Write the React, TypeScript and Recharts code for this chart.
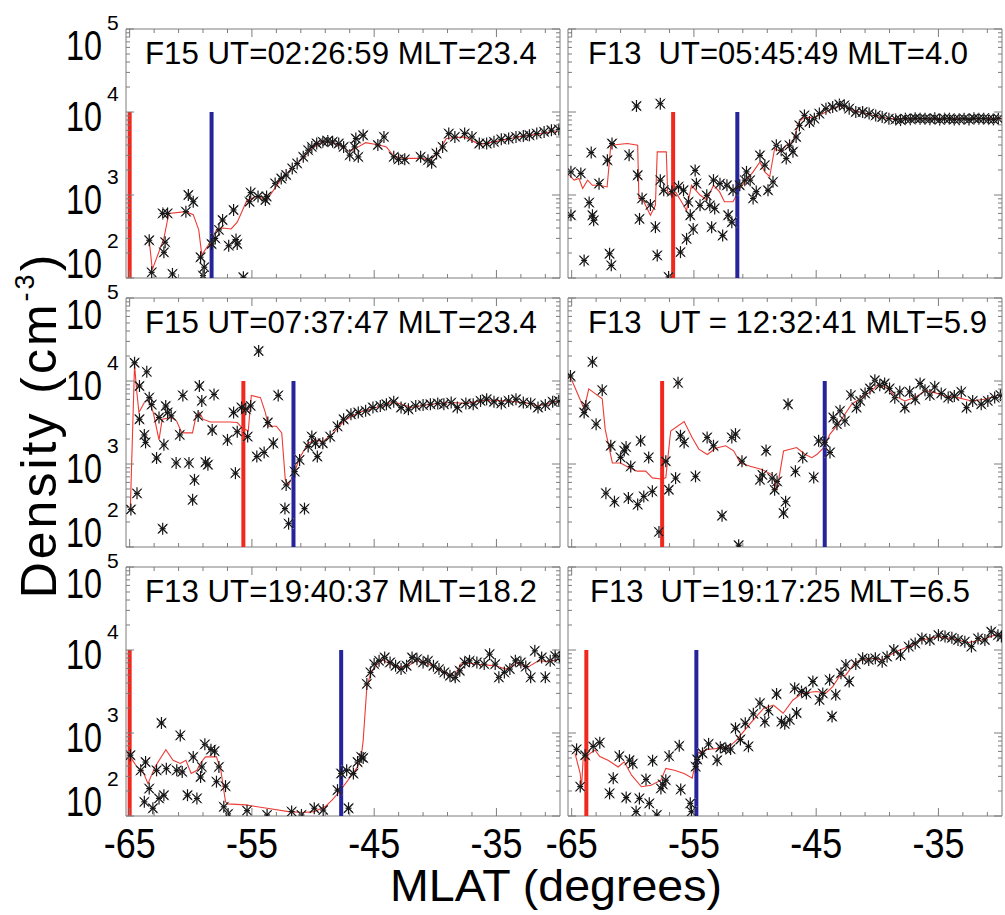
import { ComposedChart, Scatter, Line, XAxis, YAxis, ReferenceLine, ReferenceArea } from "recharts";

// MLAT tick positions (major every 10 deg, minor every 2 deg)
const xTicks = [-65, -63, -61, -59, -57, -55, -53, -51, -49, -47, -45, -43, -41, -39, -37, -35, -33, -31];
const xMajor = [-65, -55, -45, -35];
const yTicks = [
  100, 200, 300, 400, 500, 600, 700, 800, 900,
  1000, 2000, 3000, 4000, 5000, 6000, 7000, 8000, 9000,
  10000, 20000, 30000, 40000, 50000, 60000, 70000, 80000, 90000, 100000,
];
const yMajor = [100, 1000, 10000, 100000];

const titles = [
  "F15 UT=02:26:59 MLT=23.4",
  "F13  UT=05:45:49 MLT=4.0",
  "F15 UT=07:37:47 MLT=23.4",
  "F13  UT = 12:32:41 MLT=5.9",
  "F13 UT=19:40:37 MLT=18.2",
  "F13  UT=19:17:25 MLT=6.5",
];

// boundary markers (MLAT)
const redEdges = [-65.0, -56.7, -55.7, -57.6, -65.0, -63.8];
const blueEdges = [-58.3, -51.45, -51.6, -44.3, -47.7, -54.8];

// measured densities [MLAT, cm^-3]
const pass1Stars = [
  [-63.4, 285], [-63.2, 117], [-62.3, 600], [-61.9, 600], [-62.1, 270], [-62.2, 204], [-61.5, 112],
  [-60.2, 1000], [-59.8, 830], [-60.4, 630], [-59.2, 178], [-58.9, 135], [-59.0, 107], [-58.3, 257],
  [-58.0, 300], [-57.4, 500], [-57.7, 380], [-56.9, 245], [-56.5, 660], [-56.2, 257], [-56.3, 290],
  [-55.7, 102], [-55.2, 830], [-55.1, 1070], [-54.5, 960], [-53.9, 870], [-53.8, 960], [-53.1, 1380],
  [-52.6, 1580], [-52.2, 1740], [-51.7, 2090], [-51.3, 2400], [-50.8, 2880], [-50.4, 3470], [-50.1, 3800],
  [-49.7, 4170], [-49.2, 4370], [-48.8, 4470], [-48.4, 4370], [-47.9, 4170], [-47.5, 3800], [-47.0, 3020],
  [-46.6, 3800], [-46.3, 2880], [-46.5, 4790], [-45.9, 5250], [-44.7, 4000], [-44.2, 5010], [-43.4, 2880],
  [-43.0, 2690], [-42.5, 2690], [-41.2, 2880], [-40.6, 2630], [-40.3, 2450], [-39.9, 3160], [-39.4, 3800],
  [-38.9, 5500], [-38.4, 5010], [-37.6, 5500], [-37.0, 5010], [-36.4, 4170], [-35.8, 4170], [-35.2, 4370],
  [-34.6, 4680], [-34.0, 4790], [-33.4, 5010], [-32.8, 5130], [-32.3, 5250], [-31.7, 5500], [-31.1, 5750],
  [-30.5, 6030], [-29.9, 6170],
];
const pass1Fit = [
  [-63.4, 285], [-63.15, 126], [-62.2, 300], [-61.8, 600], [-60.4, 630], [-59.8, 580], [-59.35, 380],
  [-59.1, 190], [-58.3, 285], [-57.9, 380], [-57.4, 400], [-56.7, 390], [-56.2, 470], [-55.4, 870],
  [-54.5, 960], [-53.8, 870], [-52.8, 1410], [-51.9, 1990], [-51.0, 2630], [-50.1, 3630], [-49.25, 4370],
  [-48.4, 4270], [-47.5, 3800], [-47.05, 3310], [-46.3, 3800], [-45.7, 4270], [-44.6, 4000], [-44.0, 3800],
  [-43.4, 2950], [-42.55, 2760], [-41.1, 2760], [-40.5, 2630], [-39.8, 3160], [-39.1, 4790], [-37.6, 5010],
  [-36.4, 4080], [-35.2, 4370], [-33.2, 5010], [-31.7, 5370], [-29.8, 6030],
];

const pass2Stars = [
  [-65.06, 1900], [-65.06, 570], [-64.25, 1820], [-63.98, 163], [-63.57, 810], [-63.4, 3240], [-63.3, 570],
  [-63.2, 495], [-62.76, 1370], [-62.08, 2620], [-61.9, 196], [-61.76, 142], [-61.7, 4170], [-60.3, 3020],
  [-59.7, 11800], [-59.6, 1730], [-59.45, 515], [-59.24, 910], [-58.56, 760], [-58.15, 410], [-58.0, 187],
  [-57.75, 12600], [-57.75, 1510], [-57.47, 1140], [-57.07, 103], [-56.8, 1100], [-56.26, 1260], [-56.1, 205],
  [-55.85, 1140], [-55.6, 296], [-55.45, 825], [-55.3, 570], [-55.06, 390], [-54.9, 1980], [-54.8, 1370],
  [-54.5, 750], [-53.95, 990], [-53.7, 750], [-53.55, 410], [-53.4, 1510], [-53.3, 690], [-52.87, 1370],
  [-52.65, 325], [-52.3, 1310], [-52.2, 570], [-51.9, 470], [-51.8, 1140], [-51.25, 1310], [-50.84, 1510],
  [-50.7, 1900], [-50.4, 1510], [-50.16, 910], [-49.9, 1100], [-49.6, 3000], [-49.2, 2290], [-48.94, 1140],
  [-48.53, 1440], [-48.26, 3970], [-47.86, 3470], [-47.45, 2760], [-47.18, 3970], [-46.9, 3320], [-46.64, 5000],
  [-46.37, 6900], [-45.96, 9100], [-45.55, 7580], [-45.15, 8310], [-44.74, 9570], [-44.2, 10960], [-43.65, 11500],
  [-43.1, 12300], [-42.7, 12000], [-42.3, 10960], [-41.76, 10000], [-41.2, 10000], [-40.67, 9570], [-40.13, 9100],
  [-39.6, 8700], [-39.05, 8310], [-38.5, 8140], [-38.1, 8000], [-37.7, 8310], [-37.3, 8200], [-36.9, 8400],
  [-36.5, 8300], [-36.1, 8310], [-35.7, 8200], [-35.3, 8400], [-34.9, 8100], [-34.5, 8310], [-34.1, 8300],
  [-33.7, 8140], [-33.3, 8200], [-32.9, 8310], [-32.5, 8100], [-32.1, 8400], [-31.7, 8300], [-31.3, 8310],
  [-30.9, 8200], [-30.5, 8140], [-30.1, 8300],
];
const pass2Fit = [
  [-65.2, 1740], [-64.8, 1510], [-64.4, 1580], [-64.1, 1200], [-63.7, 1510], [-63.3, 1310], [-62.75, 1310],
  [-62.1, 1250], [-61.8, 3980], [-60.45, 4170], [-59.6, 3980], [-59.5, 910], [-59.1, 830], [-58.56, 570],
  [-58.15, 750], [-58.0, 3310], [-57.26, 3310], [-57.15, 1090], [-56.9, 1000], [-56.5, 1090], [-56.1, 870],
  [-55.6, 650], [-55.2, 1310], [-54.5, 1000], [-53.95, 870], [-53.4, 1310], [-52.9, 1090], [-52.5, 830],
  [-51.8, 830], [-51.25, 1200], [-50.7, 1510], [-50.16, 1900], [-49.6, 2500], [-49.2, 1900], [-48.8, 1660],
  [-48.4, 3630], [-47.86, 3310], [-47.45, 3980], [-46.9, 4370], [-46.4, 7590], [-45.96, 8710], [-45.3, 8510],
  [-44.5, 9550], [-43.65, 10960], [-42.85, 12020], [-42.0, 10470], [-40.9, 9550], [-39.86, 8710], [-38.8, 8310],
  [-36.1, 8310], [-33.4, 8310], [-29.8, 8310],
];

const pass3Stars = [
  [-64.9, 283], [-64.6, 16600], [-64.4, 443], [-64.2, 8700], [-64.2, 3460], [-63.8, 2240], [-63.7, 1820],
  [-63.6, 12900], [-63.4, 6300], [-63.2, 5200], [-62.8, 1180], [-62.6, 3630], [-62.3, 166], [-62.2, 1700],
  [-62.05, 5000], [-61.9, 4170], [-61.6, 3800], [-61.2, 1030], [-60.9, 2240], [-60.65, 6700], [-60.15, 1030],
  [-59.85, 370], [-59.7, 645], [-59.4, 3800], [-59.3, 8700], [-59.1, 5750], [-58.8, 1050], [-58.6, 980],
  [-58.25, 2570], [-58.1, 6900], [-57.0, 1950], [-56.5, 4170], [-56.35, 775], [-56.2, 2450], [-55.85, 4790],
  [-55.5, 4570], [-55.35, 2140], [-55.1, 5010], [-54.6, 1230], [-54.45, 23000], [-54.0, 1380], [-53.7, 3160],
  [-53.25, 1780], [-52.85, 6700], [-52.2, 560], [-52.3, 290], [-52.0, 191], [-51.5, 810], [-51.1, 1120],
  [-50.7, 290], [-50.4, 1630], [-50.1, 2140], [-49.8, 1780], [-49.65, 1230], [-49.2, 1780], [-48.6, 2140],
  [-48.0, 2840], [-47.5, 3460], [-46.9, 3980], [-46.3, 4170], [-45.7, 4370], [-45.1, 4790], [-44.5, 5010],
  [-44.0, 5250], [-43.4, 5620], [-42.8, 4790], [-42.2, 4570], [-41.6, 5010], [-41.0, 5130], [-40.4, 5250],
  [-39.8, 5370], [-39.3, 5250], [-38.7, 5500], [-38.2, 4790], [-37.5, 5370], [-36.9, 5250], [-36.3, 5750],
  [-35.8, 6030], [-35.2, 5620], [-34.6, 5370], [-34.0, 5750], [-33.4, 6030], [-32.8, 5500], [-32.2, 5370],
  [-31.6, 4790], [-31.0, 5130], [-30.4, 5620], [-29.9, 5750],
];
const pass3Fit = [
  [-64.95, 280], [-64.6, 15800], [-64.44, 7940], [-64.24, 4170], [-63.8, 5500], [-63.5, 6030], [-63.07, 4170],
  [-62.6, 1950], [-62.34, 3470], [-61.6, 3630], [-61.17, 3310], [-60.73, 2370], [-59.86, 2370], [-59.57, 3800],
  [-59.28, 4170], [-59.0, 3470], [-58.4, 3200], [-56.8, 3200], [-56.2, 3160], [-55.8, 2730], [-55.3, 2500],
  [-55.05, 6700], [-54.3, 6300], [-53.9, 4170], [-53.65, 2850], [-53.0, 2850], [-52.56, 2370], [-52.27, 645],
  [-52.0, 560], [-51.55, 775], [-51.1, 1180], [-50.4, 1780], [-49.8, 1950], [-49.2, 1860], [-48.33, 2370],
  [-47.45, 3310], [-46.3, 4170], [-44.83, 4790], [-43.4, 5620], [-41.9, 4790], [-40.45, 5250], [-38.7, 5500],
  [-37.5, 5370], [-35.8, 5890], [-34.0, 5750], [-32.3, 5370], [-31.7, 4960], [-31.1, 5250], [-29.8, 5750],
];

const pass4Stars = [
  [-65.1, 11500], [-63.98, 4170], [-63.84, 5010], [-63.3, 17000], [-63.0, 3020], [-62.5, 7760], [-61.8, 1660],
  [-61.0, 1200], [-60.7, 1450], [-60.55, 1600], [-60.17, 935], [-62.2, 445], [-61.5, 352], [-60.36, 390],
  [-59.6, 324], [-59.36, 1900], [-59.1, 407], [-58.7, 1200], [-58.4, 468], [-57.86, 152], [-57.3, 1080],
  [-57.05, 490], [-56.5, 676], [-56.3, 9500], [-56.1, 2190], [-55.8, 1820], [-54.87, 710], [-53.92, 2090],
  [-53.4, 1660], [-52.7, 238], [-51.9, 2090], [-51.6, 2290], [-51.34, 105], [-51.07, 1080], [-49.6, 645],
  [-49.4, 740], [-49.1, 1450], [-48.6, 676], [-48.4, 490], [-48.2, 617], [-47.5, 352], [-47.67, 257],
  [-47.3, 5250], [-46.7, 815], [-46.1, 1200], [-45.2, 690], [-44.8, 1900], [-44.3, 1820], [-43.87, 1380],
  [-43.6, 3630], [-43.3, 3020], [-43.05, 4370], [-42.65, 3310], [-42.16, 6760], [-41.7, 4790], [-41.4, 5750],
  [-41.0, 7080], [-40.6, 8130], [-40.2, 10200], [-39.8, 8900], [-39.4, 9330], [-39.0, 8130], [-38.57, 6300],
  [-38.16, 7410], [-37.75, 4790], [-37.35, 7410], [-36.9, 6030], [-36.5, 9330], [-36.1, 7760], [-35.7, 6760],
  [-35.3, 8510], [-34.77, 7080], [-34.2, 6310], [-33.7, 6600], [-33.13, 7410], [-32.7, 4790], [-32.2, 5750],
  [-31.5, 5250], [-30.96, 5750], [-30.4, 6310], [-29.93, 6760],
];
const pass4Fit = [
  [-65.1, 11200], [-63.98, 4600], [-63.6, 8050], [-62.5, 6100], [-62.26, 2630], [-61.67, 1030], [-61.0, 1030],
  [-60.3, 900], [-59.63, 820], [-58.95, 820], [-58.4, 680], [-57.7, 660], [-57.3, 680], [-56.9, 2500],
  [-55.8, 3240], [-55.15, 2080], [-54.6, 1510], [-53.9, 1300], [-53.24, 1550], [-52.4, 1660], [-51.75, 1440],
  [-51.2, 1030], [-50.4, 940], [-49.44, 860], [-48.6, 740], [-48.2, 490], [-47.67, 1440], [-46.6, 1580],
  [-45.9, 1300], [-45.36, 1190], [-44.95, 1300], [-44.36, 1580], [-43.87, 2290], [-43.2, 3020], [-42.65, 3980],
  [-42.1, 5250], [-41.3, 6310], [-40.47, 7590], [-39.93, 9120], [-39.25, 8320], [-38.57, 6610], [-37.75, 5750],
  [-36.94, 6310], [-36.1, 7590], [-35.3, 7240], [-34.5, 6610], [-33.4, 6310], [-32.3, 5750], [-31.23, 6030],
  [-29.8, 6920],
];

const pass5Stars = [
  [-64.94, 540], [-64.1, 355], [-63.7, 447], [-63.8, 148], [-63.4, 214], [-63.1, 124], [-62.8, 355],
  [-62.6, 163], [-62.4, 1320], [-62.2, 178], [-62.0, 372], [-61.15, 355], [-60.86, 935], [-60.7, 340],
  [-60.27, 178], [-59.8, 515], [-59.5, 163], [-59.2, 295], [-59.1, 390], [-58.85, 730], [-58.35, 630],
  [-58.05, 605], [-57.9, 259], [-57.7, 390], [-57.16, 229], [-57.3, 129], [-56.95, 106], [-55.4, 116],
  [-53.76, 103], [-51.75, 113], [-50.95, 103], [-49.9, 124], [-49.17, 118], [-48.0, 205], [-47.7, 325],
  [-47.25, 355], [-47.1, 124], [-46.7, 325], [-46.36, 447], [-46.06, 515], [-45.9, 500], [-45.6, 3900],
  [-45.3, 5370], [-45.0, 6760], [-44.6, 7410], [-44.14, 8130], [-43.7, 7080], [-43.25, 6460], [-42.8, 5890],
  [-42.35, 6460], [-41.9, 8130], [-41.5, 7760], [-41.0, 7080], [-40.6, 7410], [-40.15, 6460], [-39.7, 5890],
  [-39.26, 5370], [-38.8, 4900], [-38.37, 4680], [-38.0, 5620], [-37.6, 7080], [-37.2, 7410], [-36.6, 7080],
  [-36.0, 6760], [-35.56, 8910], [-35.1, 6760], [-34.8, 4680], [-34.35, 5370], [-33.9, 5890], [-33.45, 7410],
  [-33.0, 7080], [-32.6, 6310], [-32.2, 4680], [-31.86, 9770], [-31.3, 8130], [-31.0, 4680], [-30.6, 7410],
  [-30.2, 8510], [-29.85, 8130],
];
const pass5Fit = [
  [-64.94, 515], [-64.4, 390], [-63.96, 355], [-63.5, 245], [-62.93, 390], [-62.04, 630], [-61.45, 470],
  [-60.86, 430], [-60.4, 470], [-59.97, 325], [-59.5, 355], [-59.23, 430], [-58.8, 515], [-57.9, 515],
  [-57.54, 355], [-57.16, 148], [-57.0, 140], [-55.53, 136], [-53.76, 124], [-52.0, 113], [-50.8, 110],
  [-49.9, 113], [-49.0, 130], [-48.43, 156], [-47.84, 196], [-47.54, 225], [-46.95, 296], [-46.36, 390],
  [-46.06, 515], [-45.9, 815], [-45.6, 3550], [-45.3, 5130], [-44.9, 6460], [-44.3, 7590], [-43.7, 6760],
  [-43.1, 6170], [-42.2, 6460], [-41.6, 7410], [-40.74, 7080], [-39.85, 5890], [-38.96, 5130], [-38.37, 4900],
  [-37.93, 6760], [-37.2, 6920], [-36.0, 6610], [-35.1, 6460], [-34.23, 5890], [-33.34, 6920], [-32.46, 6170],
  [-31.57, 7410], [-30.7, 7240], [-29.8, 7850],
];

const pass6Stars = [
  [-64.6, 635], [-64.3, 226], [-63.9, 540], [-63.24, 690], [-62.7, 765], [-61.9, 187], [-61.6, 284],
  [-61.1, 527], [-60.54, 167], [-60.27, 470], [-60.0, 428], [-59.73, 113], [-59.46, 163], [-58.92, 276],
  [-58.65, 142], [-58.38, 464], [-58.03, 103], [-57.7, 215], [-57.55, 240], [-57.3, 270], [-57.03, 527],
  [-56.08, 209], [-56.2, 700], [-55.3, 142], [-55.2, 113], [-54.86, 393], [-54.73, 480], [-54.3, 570],
  [-53.8, 740], [-53.1, 470], [-52.84, 673], [-52.4, 650], [-52.0, 640], [-51.6, 1140], [-51.2, 835],
  [-50.8, 1310], [-50.54, 690], [-50.14, 1700], [-49.6, 2290], [-49.2, 1370], [-48.9, 1860], [-48.24, 2950],
  [-47.84, 1370], [-47.57, 1290], [-47.16, 1440], [-46.76, 3470], [-46.6, 1740], [-46.2, 3160], [-45.8, 3000],
  [-45.27, 4170], [-44.73, 2510], [-44.46, 3000], [-43.9, 4370], [-43.7, 1580], [-43.4, 2880], [-42.97, 5250],
  [-42.57, 6610], [-42.3, 4170], [-41.76, 6760], [-41.2, 7940], [-40.7, 7590], [-40.16, 7940], [-39.6, 7240],
  [-39.2, 8320], [-38.65, 10000], [-38.1, 8710], [-37.43, 11000], [-36.9, 12000], [-36.35, 13800], [-35.7, 13200],
  [-35.0, 15100], [-34.46, 14500], [-33.9, 14000], [-33.4, 13200], [-32.84, 12600], [-32.3, 11000], [-31.76, 13800],
  [-31.2, 13200], [-30.68, 16600], [-30.13, 15100], [-29.85, 14500],
];
const pass6Fit = [
  [-64.73, 570], [-64.3, 325], [-64.2, 215], [-64.05, 520], [-63.65, 545], [-63.1, 625], [-62.7, 520],
  [-62.03, 470], [-61.2, 390], [-60.7, 450], [-60.1, 310], [-59.3, 225], [-58.5, 235], [-57.7, 270],
  [-57.3, 375], [-56.6, 355], [-55.8, 325], [-55.14, 285], [-54.73, 570], [-53.92, 635], [-52.84, 655],
  [-52.03, 700], [-51.5, 825], [-50.4, 1300], [-49.3, 1980], [-48.5, 2170], [-47.7, 1730], [-46.9, 2500],
  [-46.1, 3020], [-45.0, 3160], [-44.2, 3020], [-43.65, 3630], [-43.1, 4790], [-42.57, 5010], [-41.76, 7240],
  [-40.68, 7940], [-39.6, 7590], [-38.5, 9550], [-37.43, 11000], [-36.35, 13200], [-35.0, 14500], [-33.65, 13500],
  [-32.57, 12300], [-31.5, 13200], [-30.4, 15100], [-29.8, 15100],
];

const starSets = [pass1Stars, pass2Stars, pass3Stars, pass4Stars, pass5Stars, pass6Stars];
const fitSets = [pass1Fit, pass2Fit, pass3Fit, pass4Fit, pass5Fit, pass6Fit];

const X_DOMAIN = [-65.3, -29.8];
const PW = 434;
const PH = 249;
const colLeft = [126, 568];
const rowTop = [29, 298, 567];
// axes take 1px each, so plot area starts at margin + 1
const M = { top: 24, right: 10, bottom: 55, left: 75 };
const FRAME = "#7d7d7d";
const FONT = "'Liberation Sans', Arial, Helvetica, sans-serif";

const Asterisk = (props: any) => {
  const { cx, cy } = props;
  if (cx == null || cy == null) return null;
  const r = 6;
  const d = 4.5;
  return (
    <g>
      <g stroke="#9a9a9a" strokeWidth={1}>
        <line x1={cx - d - 0.8} y1={cy - d - 0.8} x2={cx + d + 0.8} y2={cy + d + 0.8} />
        <line x1={cx - d - 0.8} y1={cy + d + 0.8} x2={cx + d + 0.8} y2={cy - d - 0.8} />
      </g>
      <g stroke="#161616" strokeWidth={1.2}>
        <line x1={cx - d} y1={cy - d} x2={cx + d} y2={cy + d} />
        <line x1={cx - d} y1={cy + d} x2={cx + d} y2={cy - d} />
        <line x1={cx} y1={cy - r} x2={cx} y2={cy + r} />
        <line x1={cx - 3} y1={cy} x2={cx + 3} y2={cy} />
      </g>
    </g>
  );
};

const XTick = (props: any) => {
  const { x, y, payload, showLabel } = props;
  const v = payload.value;
  const major = xMajor.includes(v);
  const len = major ? 8 : 4;
  return (
    <g>
      <line x1={x} y1={y} x2={x} y2={y - len} stroke={FRAME} />
      <line x1={x} y1={y - PH} x2={x} y2={y - PH + len} stroke={FRAME} />
      {showLabel && major && (
        <text x={x} y={y + 42} textAnchor="middle" fontSize={42} fontFamily={FONT} fill="#000"
          textLength={52} lengthAdjust="spacingAndGlyphs">
          {String(v)}
        </text>
      )}
    </g>
  );
};

const labelShift: Record<number, number> = { 100: 0, 1000: 19, 10000: 19, 100000: 31 };

const YTick = (props: any) => {
  const { x, y, payload, showLabel } = props;
  const v = payload.value;
  const major = yMajor.includes(v);
  const len = major ? 8 : 4;
  const exp = String(v).length - 1;
  const base = y + (labelShift[v] ?? 19);
  return (
    <g>
      <line x1={x} y1={y} x2={x + len} y2={y} stroke={FRAME} />
      <line x1={x + PW} y1={y} x2={x + PW - len} y2={y} stroke={FRAME} />
      {showLabel && major && (
        <g fontFamily={FONT} fill="#000">
          <text x={x - 24} y={base} textAnchor="end" fontSize={42} textLength={36} lengthAdjust="spacingAndGlyphs">10</text>
          <text x={x - 19} y={base - 30} fontSize={21}>{exp}</text>
        </g>
      )}
    </g>
  );
};

function Panel({ i }: { i: number }) {
  const row = Math.floor(i / 2);
  const col = i % 2;
  const stars = starSets[i].map(([x, y]) => ({ x, y }));
  const fit = fitSets[i].map(([x, y]) => ({ x, y }));
  const red = redEdges[i];
  const blue = blueEdges[i];
  return (
    <div style={{ position: "absolute", left: colLeft[col] - M.left - 1, top: rowTop[row] - M.top }}>
      <ComposedChart width={PW + M.left + M.right + 1} height={PH + M.top + M.bottom + 1} margin={M}>
        <XAxis type="number" dataKey="x" domain={X_DOMAIN} allowDataOverflow ticks={xTicks} interval={0}
          height={1} axisLine={false} tickLine={false} tickSize={0} tickMargin={0}
          tick={(p: any) => <XTick {...p} showLabel={row === 2} />} />
        <YAxis type="number" dataKey="y" scale="log" domain={[100, 100000]} allowDataOverflow ticks={yTicks}
          interval={0} width={1} axisLine={false} tickLine={false} tickSize={0} tickMargin={0}
          tick={(p: any) => <YTick {...p} showLabel={col === 0} />} />
        <ReferenceArea x1={X_DOMAIN[0]} x2={X_DOMAIN[1]} y1={100} y2={100000} fill="none" stroke={FRAME}
          strokeWidth={1} ifOverflow="visible" />
        <Scatter data={stars} shape={Asterisk} isAnimationActive={false} />
        <Line data={fit} dataKey="y" type="linear" stroke="#ee3a34" strokeWidth={1.1} dot={false}
          isAnimationActive={false} />
        <ReferenceLine segment={[{ x: red, y: 100 }, { x: red, y: 10000 }]} stroke="#f0281e" strokeWidth={4}
          ifOverflow="visible" />
        <ReferenceLine segment={[{ x: blue, y: 100 }, { x: blue, y: 10000 }]} stroke="#25249a" strokeWidth={4}
          ifOverflow="visible" />
      </ComposedChart>
    </div>
  );
}

const titleX = [145, 588];
const titleLen = [392, 380, 392, 399, 392, 380];

export default function App() {
  return (
    <div style={{ position: "absolute", left: 0, top: 0, width: 1005, height: 915, background: "#fff", overflow: "hidden" }}>
      {titles.map((_, i) => (
        <Panel key={i} i={i} />
      ))}
      <svg width={1005} height={915} style={{ position: "absolute", left: 0, top: 0, pointerEvents: "none" }}>
        {titles.map((t, i) => (
          <text key={t} x={titleX[i % 2] + (i === 5 ? 2 : 0)} y={rowTop[Math.floor(i / 2)] + 35} fontSize={31}
            fontFamily={FONT} fill="#000" textLength={titleLen[i]} lengthAdjust="spacingAndGlyphs"
            style={{ whiteSpace: "pre" }}>
            {t}
          </text>
        ))}
        <text transform="translate(56,425) rotate(-90)" textAnchor="middle" fontSize={50} fontFamily={FONT}
          letterSpacing={3} fill="#000">
          Density (cm<tspan dy={-22} fontSize={27}>-3</tspan><tspan dy={22}>)</tspan>
        </text>
        <text x={556} y={901} textAnchor="middle" fontSize={44} fontFamily={FONT} fill="#000"
          textLength={332} lengthAdjust="spacingAndGlyphs">
          MLAT (degrees)
        </text>
      </svg>
    </div>
  );
}
